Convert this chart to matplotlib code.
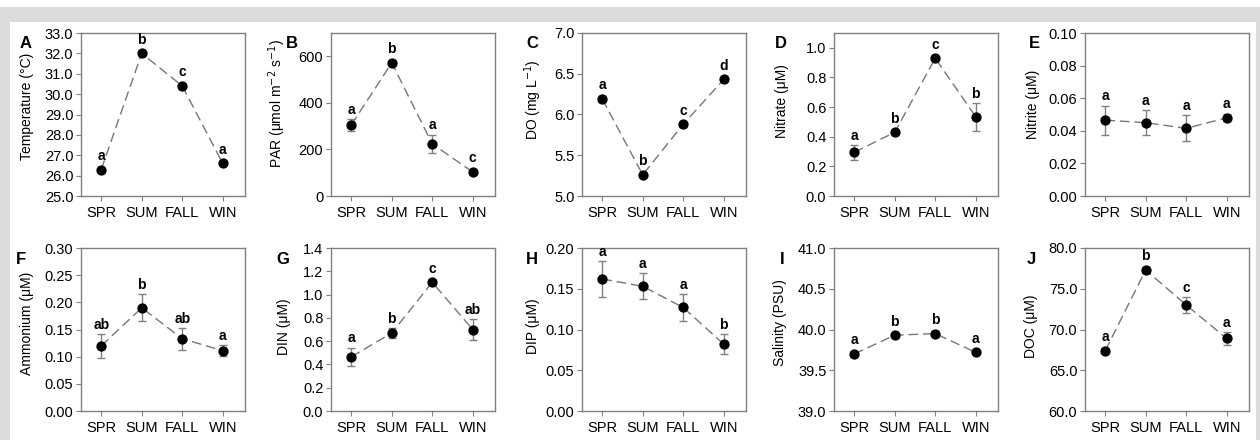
import numpy as np
import matplotlib
matplotlib.use("Agg")
import matplotlib.pyplot as plt
from matplotlib.patches import Rectangle
from matplotlib.ticker import FormatStrFormatter, MultipleLocator

plt.rcParams["font.family"] = ["Liberation Sans", "DejaVu Sans"]

SEASONS = ["SPR", "SUM", "FALL", "WIN"]
LETTERS = ["A", "B", "C", "D", "E", "F", "G", "H", "I", "J"]

temp_mean = [26.3, 32.0, 30.4, 26.6]
temp_se = [0.05, 0.05, 0.08, 0.06]
par_mean = [305, 572, 224, 103]
par_se = [27, 10, 40, 8]
do_mean = [6.19, 5.26, 5.88, 6.43]
do_se = [0.04, 0.02, 0.03, 0.02]
nitrate_mean = [0.295, 0.43, 0.93, 0.535]
nitrate_se = [0.05, 0.015, 0.015, 0.095]
nitrite_mean = [0.0465, 0.045, 0.0415, 0.048]
nitrite_se = [0.009, 0.0075, 0.008, 0.002]
ammonium_mean = [0.120, 0.190, 0.133, 0.111]
ammonium_se = [0.022, 0.025, 0.02, 0.01]
din_mean = [0.465, 0.67, 1.105, 0.70]
din_se = [0.08, 0.04, 0.02, 0.09]
dip_mean = [0.162, 0.153, 0.127, 0.082]
dip_se = [0.022, 0.016, 0.016, 0.012]
sal_mean = [39.70, 39.93, 39.95, 39.72]
sal_se = [0.02, 0.02, 0.03, 0.02]
doc_mean = [67.4, 77.3, 73.0, 68.9]
doc_se = [0.3, 0.4, 1.0, 0.8]

# post-hoc groupings
temp_grp = ["a", "b", "c", "a"]
par_grp = ["a", "b", "a", "c"]
do_grp = ["a", "b", "c", "d"]
nitrate_grp = ["a", "b", "c", "b"]
nitrite_grp = ["a", "a", "a", "a"]
ammonium_grp = ["ab", "b", "ab", "a"]
din_grp = ["a", "b", "c", "ab"]
dip_grp = ["a", "a", "a", "b"]
sal_grp = ["a", "b", "b", "a"]
doc_grp = ["a", "b", "c", "a"]

# (ylabel, mean, se, groups, (ymin, ymax), tick step, tick format)
PANELS = [
    ("Temperature (\u00b0C)", temp_mean, temp_se, temp_grp, (25, 33), 1.0, "%.1f"),
    ("PAR (\u03bcmol m$^{-2}$ s$^{-1}$)", par_mean, par_se, par_grp, (0, 700), 200, "%d"),
    ("DO (mg L$^{-1}$)", do_mean, do_se, do_grp, (5.0, 7.0), 0.5, "%.1f"),
    ("Nitrate (\u03bcM)", nitrate_mean, nitrate_se, nitrate_grp, (0, 1.1), 0.2, "%.1f"),
    ("Nitrite (\u03bcM)", nitrite_mean, nitrite_se, nitrite_grp, (0, 0.10), 0.02, "%.2f"),
    ("Ammonium (\u03bcM)", ammonium_mean, ammonium_se, ammonium_grp, (0, 0.30), 0.05, "%.2f"),
    ("DIN (\u03bcM)", din_mean, din_se, din_grp, (0, 1.4), 0.2, "%.1f"),
    ("DIP (\u03bcM)", dip_mean, dip_se, dip_grp, (0, 0.20), 0.05, "%.2f"),
    ("Salinity (PSU)", sal_mean, sal_se, sal_grp, (39.0, 41.0), 0.5, "%.1f"),
    ("DOC (\u03bcM)", doc_mean, doc_se, doc_grp, (60.0, 80.0), 5.0, "%.1f"),
]

W, H, DPI = 1260, 440, 100
LEFTS = [81, 331, 582, 834, 1085]
LETTER_X = [26, 292, 532, 781, 1034, 21, 283, 532, 782, 1031]
# y-label centre: pixels left of the spine, fraction of axis height
LABEL_DX = [54, 54, 49, 52, 52, 54, 47, 49, 54, 54]
LABEL_Y = [0.55, 0.57, 0.59, 0.58, 0.56, 0.54, 0.52, 0.52, 0.54, 0.52]
ROW_TOP = [33, 248]
AX_W, AX_H = 164, 163
SPINE = "#808080"

fig = plt.figure(figsize=(W / DPI, H / DPI), dpi=DPI)
# light grey page frame
fig.patches.append(Rectangle((0, 0), 1, (H - 7) / H, transform=fig.transFigure,
                             facecolor="#dcdcdc", edgecolor="none", zorder=-10))
fig.patches.append(Rectangle((10 / W, 0), 1246 / W, (H - 22) / H, transform=fig.transFigure,
                             facecolor="white", edgecolor="none", zorder=-9))

x = np.arange(len(SEASONS))
for i, (ylab, mean, se, grp, ylim, step, fmt) in enumerate(PANELS):
    row, col = divmod(i, 5)
    top = ROW_TOP[row]
    ax = fig.add_axes([LEFTS[col] / W, (H - top - AX_H) / H, AX_W / W, AX_H / H])
    ax.errorbar(x, mean, yerr=se, fmt="none", ecolor="#808080", elinewidth=1.0,
                capsize=3, capthick=1.0, zorder=2)
    ax.plot(x, mean, color="#777777", lw=1.0, dashes=(7, 3.5), zorder=3)
    ax.plot(x, mean, "o", color="black", ms=6.4, zorder=4)
    ax.set_xlim(-0.5, 3.55)
    ax.set_ylim(*ylim)
    ax.yaxis.set_major_locator(MultipleLocator(step))
    ax.yaxis.set_major_formatter(FormatStrFormatter(fmt))
    ax.set_xticks(x)
    ax.set_xticklabels(SEASONS)
    ax.set_ylabel(ylab, fontsize=10, va="center")
    ax.yaxis.set_label_coords(-LABEL_DX[i] / AX_W, LABEL_Y[i])
    for s in ax.spines.values():
        s.set_color(SPINE)
        s.set_linewidth(1.0)
    ax.tick_params(axis="both", direction="out", length=3.5, width=0.8, color=SPINE,
                   labelsize=10.5, top=False, right=False)
    ax.tick_params(axis="x", pad=4)
    ax.tick_params(axis="y", pad=2)

    # group letters sit just above the error bar (or the marker if the bar is tiny)
    for xi, m, e, g in zip(x, mean, se, grp):
        y_pt = ax.transData.transform((xi, m))[1]
        y_err = ax.transData.transform((xi, m + e))[1]
        rise = max(y_err - y_pt, 4.5) * 72 / DPI + 1.5
        ax.annotate(g, (xi, m), xytext=(0, rise), textcoords="offset points",
                    ha="center", va="bottom", fontsize=10, fontweight="bold")

    fig.text(LETTER_X[i] / W, (H - top - 11) / H, LETTERS[i], ha="center", va="center",
             fontsize=12, fontweight="bold")

fig.savefig("out.png", dpi=DPI)
